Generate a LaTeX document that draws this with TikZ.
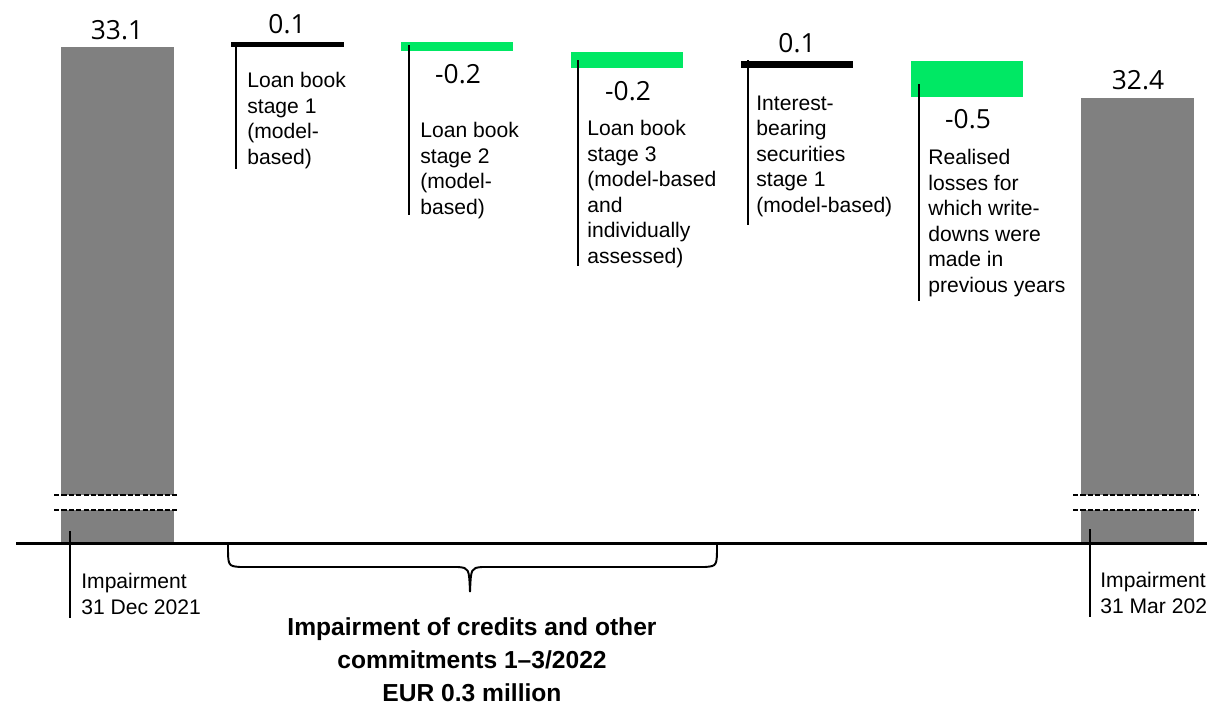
\documentclass[tikz,border=0pt]{standalone}
\usepackage{fontspec}
\setmainfont{Liberation Sans}
\newfontfamily\numfont{Open Sans}
\usepackage{tikz}
\usetikzlibrary{calc}
\definecolor{gainGreen}{RGB}{0,232,100}
\definecolor{barGrey}{RGB}{128,128,128}
\tikzset{>=latex}

\begin{document}
\begin{tikzpicture}[x=0.02cm, y=-0.02cm,
  val/.style={anchor=base, inner sep=0, font=\numfont\fontsize{15}{18}\selectfont},
  lbl/.style={anchor=base west, align=left, inner sep=0, font=\fontsize{12}{14.5}\selectfont},
  leader/.style={line width=1.1pt},
  cut/.style={dashed, dash pattern=on 3pt off 1.2pt, line width=0.8pt}]
\useasboundingbox (0,0) rectangle (1207,704);

% start and end bars
\fill[barGrey] (61,47) rectangle (174,543);
\fill[barGrey] (1081,98) rectangle (1194,543);
\fill[white] (50,495) rectangle (185,510);
\fill[white] (1070,495) rectangle (1202,510);
\draw[cut] (54,495) -- (179,495);
\draw[cut] (54,510) -- (179,510);
\draw[cut] (1073,495) -- (1199,495);
\draw[cut] (1073,510) -- (1199,510);
\node[val] (startval) at (117,39) {33.1};
\node[val] (endval) at (1138,89) {32.4};

% steps
\fill[black] (231,42) rectangle (344,47);
\fill[gainGreen] (401,42) rectangle (513,51);
\fill[gainGreen] (571,52) rectangle (683,68);
\fill[black] (741,61) rectangle (853,68);
\fill[gainGreen] (911,61) rectangle (1023,97);
\node[val] (stepA) at (287,33) {0.1};
\node[val] (stepB) at (458,83) {-0.2};
\node[val] (stepC) at (628,100) {-0.2};
\node[val] (stepD) at (797,52) {0.1};
\node[val] (stepE) at (968,128) {-0.5};

% leaders
\coordinate (ldA1) at (236,42);   \coordinate (ldA2) at (236,169);
\coordinate (ldB1) at (409,45);   \coordinate (ldB2) at (409,215);
\coordinate (ldC1) at (578,60);   \coordinate (ldC2) at (578,266);
\coordinate (ldD1) at (748,60);   \coordinate (ldD2) at (748,225);
\coordinate (ldE1) at (919,84);   \coordinate (ldE2) at (919,301);
\coordinate (ldS1) at (70,531);   \coordinate (ldS2) at (70,618);
\coordinate (ldF1) at (1090,529); \coordinate (ldF2) at (1090,617);
\draw[leader] (ldA1) -- (ldA2);
\draw[leader] (ldB1) -- (ldB2);
\draw[leader] (ldC1) -- (ldC2);
\draw[leader] (ldD1) -- (ldD2);
\draw[leader] (ldE1) -- (ldE2);
\draw[leader] (ldS1) -- (ldS2);
\draw[leader] (ldF1) -- (ldF2);

% labels (base = last line)
\node[lbl] (lblA) at (247,164) {Loan book\\stage 1\\(model-\\based)};
\node[lbl] (lblB) at (420,214) {Loan book\\stage 2\\(model-\\based)};
\node[lbl] (lblC) at (587,263) {Loan book\\stage 3\\(model-based\\and\\individually\\assessed)};
\node[lbl] (lblD) at (756,212) {Interest-\\bearing\\securities\\stage 1\\(model-based)};
\node[lbl] (lblE) at (928,292) {Realised\\losses for\\which write-\\downs were\\made in\\previous years};
\node[lbl] (lblS) at (81,614) {Impairment\\31 Dec 2021};
\node[lbl] (lblF) at (1100,613) {Impairment\\31 Mar 2022};

% axis
\draw[line width=1.7pt] (16,543) -- (1207,543);

% brace
\coordinate (brL) at (228,545);
\coordinate (brR) at (717,545);
\coordinate (brTip) at (470,592);
\draw[line width=1.1pt] (brL) .. controls (228,566) .. (240,567) -- (458,567)
  .. controls (469,568) .. (brTip) .. controls (471,568) .. (482,567)
  -- (705,567) .. controls (717,566) .. (brR);
\node[anchor=base, align=center, inner sep=0, font=\bfseries\fontsize{14}{18.7}\selectfont]
  (total) at (472,701) {Impairment of credits and other\\commitments 1--3/2022\\EUR 0.3 million};
\end{tikzpicture}
\end{document}
